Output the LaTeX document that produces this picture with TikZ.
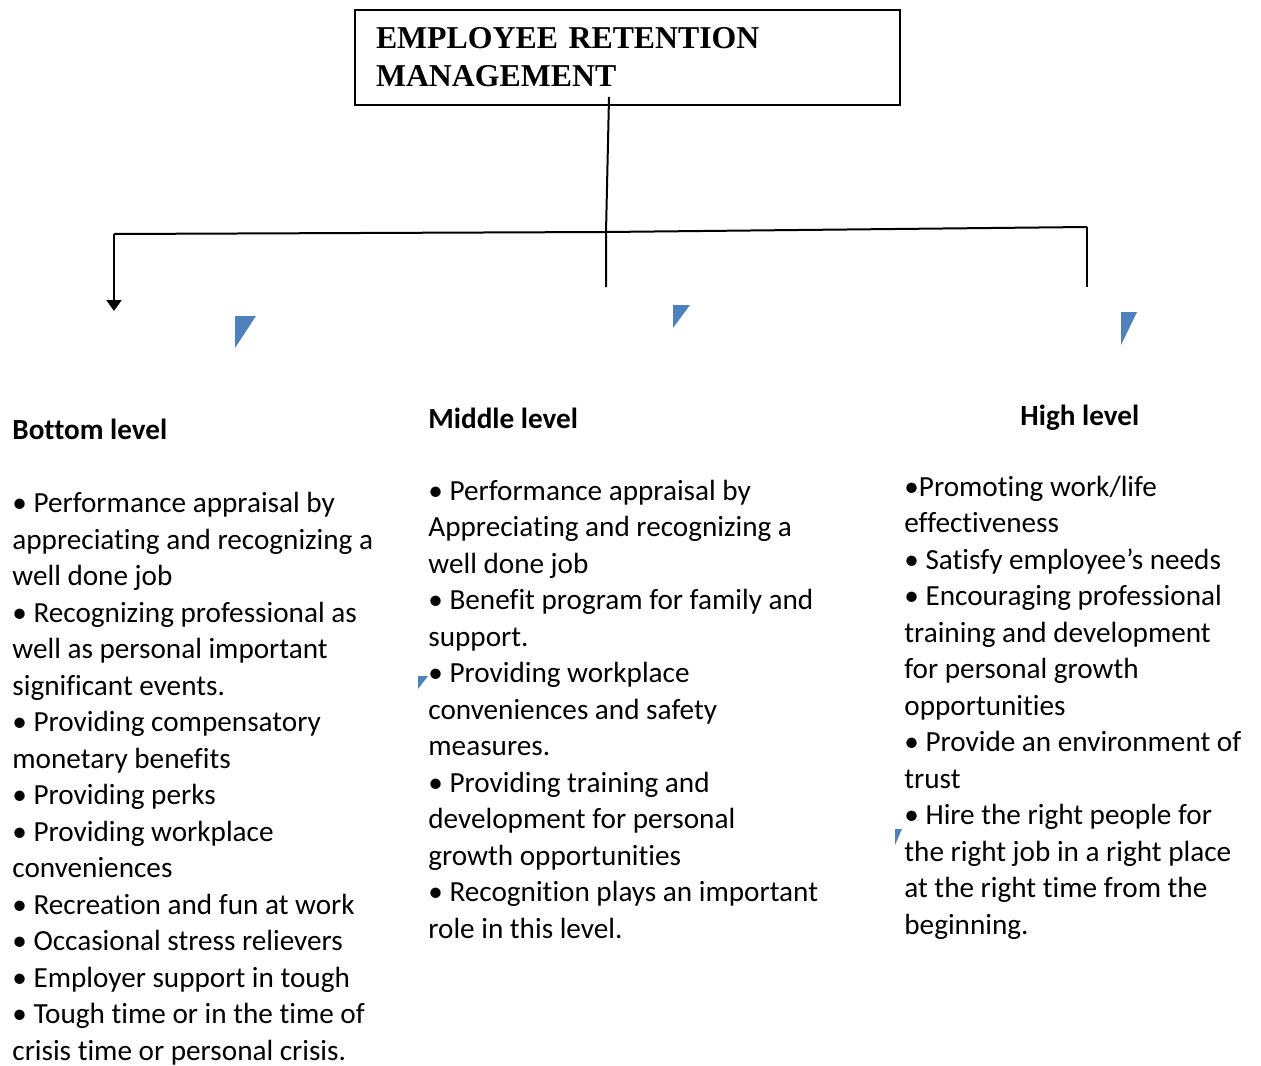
\documentclass[tikz,border=0pt]{standalone}
\usepackage{fontspec}
\setmainfont[Ligatures=CommonOff]{Carlito}
\newfontfamily\titlefont{Liberation Serif}
\usetikzlibrary{arrows.meta,positioning}
\definecolor{wordblue}{RGB}{79,129,189}
\tikzset{
  headbox/.style={draw,line width=0.8pt,minimum width=272.5pt,minimum height=47.5pt,
    text width=251.5pt,align=left,inner xsep=10.5pt,
    font=\titlefont\bfseries\fontsize{15.9}{19}\selectfont},
  levelhead/.style={anchor=base west,inner sep=0pt,font=\bfseries\fontsize{14.6}{18}\selectfont},
  itemlist/.style={anchor=base west,inner sep=0pt,align=left,font=\fontsize{14.6}{18.25}\selectfont},
  link/.style={line width=1pt},
  bluemark/.style={fill=wordblue}
}
\begin{document}
\begin{tikzpicture}[x=0.5pt,y=-0.5pt]
\useasboundingbox (0,0) rectangle (1261,1065);
% title box
\node [headbox] (title) at (627.5,57.5) {EMPLOYEE RETENTION\\MANAGEMENT};
% level headings
\node [levelhead] (bottom) at (12,439) {Bottom level};
\node [levelhead] (middle) at (428,428) {Middle level};
\node [levelhead] (high) at (1020,425) {High level};
% connectors
\coordinate (stem) at (609,97);
\coordinate (hub) at (606,232);
\coordinate (left) at (114,234);
\coordinate (right) at (1087,227);
\coordinate (leftend) at (114,311);
\coordinate (midend) at (606,287);
\coordinate (rightend) at (1087,287);
\draw [link] (stem) -- (hub) -- (midend);
\draw [link] (left) -- (hub) -- (right);
\draw [link,-{Triangle[width=7.5pt,length=5.5pt]}] (left) -- (leftend);
\draw [link] (right) -- (rightend);
% blue marks
\fill [bluemark] (235,316) -- (256,316) -- (235,348) -- cycle;
\fill [bluemark] (673,305) -- (690,305) -- (673,328) -- cycle;
\fill [bluemark] (1121,312) -- (1137,312) -- (1121,345) -- cycle;
\fill [bluemark] (418,676) -- (428,676) -- (418,689) -- cycle;
\fill [bluemark] (895,829) -- (902,829) -- (895,845) -- cycle;
% item lists (anchored at the baseline of their last line)
\node [itemlist] (bottomlist) at (12,1060) {%
\textbullet{} Performance appraisal by\\
appreciating and recognizing a\\
well done job\\
\textbullet{} Recognizing professional as\\
well as personal important\\
significant events.\\
\textbullet{} Providing compensatory\\
monetary benefits\\
\textbullet{} Providing perks\\
\textbullet{} Providing workplace\\
conveniences\\
\textbullet{} Recreation and fun at work\\
\textbullet{} Occasional stress relievers\\
\textbullet{} Employer support in tough\\
\textbullet{} Tough time or in the time of\\
crisis time or personal crisis.};
\node [itemlist] (middlelist) at (428,938) {%
\textbullet{} Performance appraisal by\\
Appreciating and recognizing a\\
well done job\\
\textbullet{} Benefit program for family and\\
support.\\
\textbullet{} Providing workplace\\
conveniences and safety\\
measures.\\
\textbullet{} Providing training and\\
development for personal\\
growth opportunities\\
\textbullet{} Recognition plays an important\\
role in this level.};
\node [itemlist] (highlist) at (904,934) {%
\textbullet Promoting work/life\\
effectiveness\\
\textbullet{} Satisfy employee’s needs\\
\textbullet{} Encouraging professional\\
training and development\\
for personal growth\\
opportunities\\
\textbullet{} Provide an environment of\\
trust\\
\textbullet{} Hire the right people for\\
the right job in a right place\\
at the right time from the\\
beginning.};
\end{tikzpicture}
\end{document}
